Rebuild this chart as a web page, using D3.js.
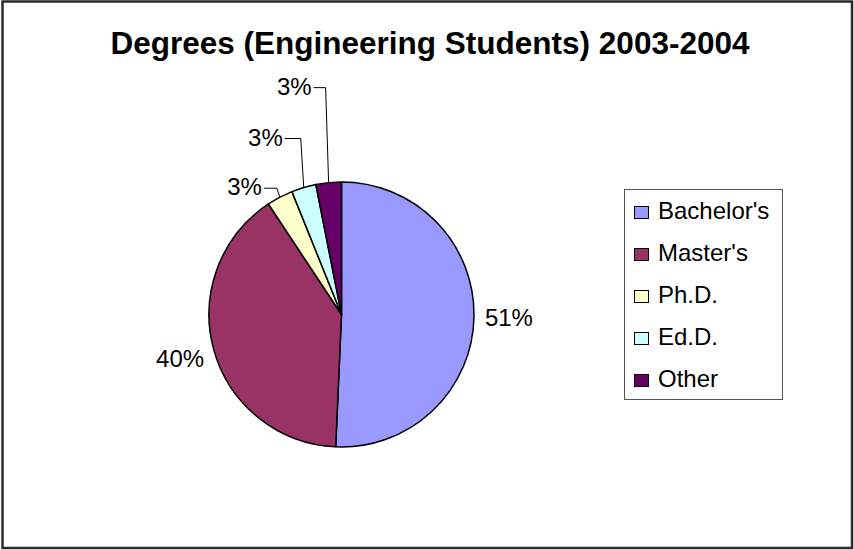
<!DOCTYPE html>
<html>
<head>
<meta charset="utf-8">
<script src="https://cdn.jsdelivr.net/npm/d3@7"></script>
<style>
  body { margin: 0; background: #fff; }
  text { font-family: "Liberation Sans", Arial, sans-serif; }
</style>
</head>
<body>
<div id="chart"></div>
<script>
// chart data (percent of degrees)
var categories = ["Bachelor's", "Master's", "Ph.D.", "Ed.D.", "Other"];
var values = [50.7, 40.0, 3.2, 3.0, 3.1];
var labels = ["51%", "40%", "3%", "3%", "3%"];
var colors = ["#9999ff", "#993366", "#ffffcc", "#ccffff", "#660066"];
var title = "Degrees (Engineering Students) 2003-2004";

// moved labels for the thin slices: offset of the label end from the arc point
var labelShift = [null, null, [-18, -2], [-21, -42], [-17, -88]];

var width = 854, height = 550;
var cx = 341.5, cy = 314.5, radius = 132.5;

var data = categories.map(function(c, i) {
  return { name: c, value: values[i], label: labels[i], color: colors[i], shift: labelShift[i] };
});

var svg = d3.select("#chart")
  .append("svg")
    .attr("width", width)
    .attr("height", height);

// outer frame
svg.append("rect")
  .attr("x", 2.5).attr("y", 1.5)
  .attr("width", width - 4.5).attr("height", height - 3.5)
  .attr("fill", "#fff")
  .attr("stroke", "#2b2b2b")
  .attr("stroke-width", 2.5);

// title
svg.append("text")
  .attr("x", 430)
  .attr("y", 54)
  .attr("text-anchor", "middle")
  .style("font-size", "31.5px")
  .style("font-weight", "bold")
  .text(title);

// pie, clockwise from 12 o'clock
var pie = d3.pie().sort(null).value(function(d) { return d.value; });
var arc = d3.arc().innerRadius(0).outerRadius(radius);
var arcs = pie(data);

var g = svg.append("g")
  .attr("transform", "translate(" + cx + "," + cy + ")");

g.selectAll("path")
  .data(arcs)
  .enter()
  .append("path")
    .attr("d", arc)
    .attr("fill", function(d) { return d.data.color; })
    .attr("stroke", "#000")
    .attr("stroke-width", 1.5)
    .attr("stroke-linejoin", "round");

function edgePoint(d, r) {
  var a = (d.startAngle + d.endAngle) / 2;
  return [Math.sin(a) * r, -Math.cos(a) * r];
}

// labels of the big slices sit just outside the pie
arcs.forEach(function(d) {
  if (d.data.shift) return;
  var p = edgePoint(d, radius + 35);
  g.append("text")
    .attr("x", p[0])
    .attr("y", p[1] + 8)
    .attr("text-anchor", "middle")
    .style("font-size", "24px")
    .text(d.data.label);
});

// labels of the thin slices were dragged out, with leader lines
arcs.forEach(function(d) {
  if (!d.data.shift) return;
  var p = edgePoint(d, radius);
  var ex = p[0] + d.data.shift[0], ey = p[1] + d.data.shift[1];
  g.append("text")
    .attr("x", ex)
    .attr("y", ey)
    .attr("text-anchor", "end")
    .style("font-size", "24px")
    .text(d.data.label);
  var ly = ey - 7;
  g.append("polyline")
    .attr("points", [[ex + 2, ly], [p[0] - 3, ly], [p[0], p[1]]].join(" "))
    .attr("fill", "none")
    .attr("stroke", "#000")
    .attr("stroke-width", 1);
});

// legend
var legend = svg.append("g").attr("transform", "translate(624,189)");
legend.append("rect")
  .attr("x", 0.5).attr("y", 0.5)
  .attr("width", 158).attr("height", 210)
  .attr("fill", "#fff")
  .attr("stroke", "#555")
  .attr("stroke-width", 1);

var rowY = d3.scalePoint()
  .domain(categories)
  .range([30, 198]);

var rows = legend.selectAll("g.row")
  .data(data)
  .enter()
  .append("g")
    .attr("class", "row")
    .attr("transform", function(d) { return "translate(0," + rowY(d.name) + ")"; });

rows.append("rect")
  .attr("x", 10.5).attr("y", -12.5)
  .attr("width", 14).attr("height", 12)
  .attr("fill", function(d) { return d.color; })
  .attr("stroke", "#000")
  .attr("stroke-width", 1);

rows.append("text")
  .attr("x", 34)
  .attr("y", 0)
  .style("font-size", "24px")
  .text(function(d) { return d.name; });
</script>
</body>
</html>
